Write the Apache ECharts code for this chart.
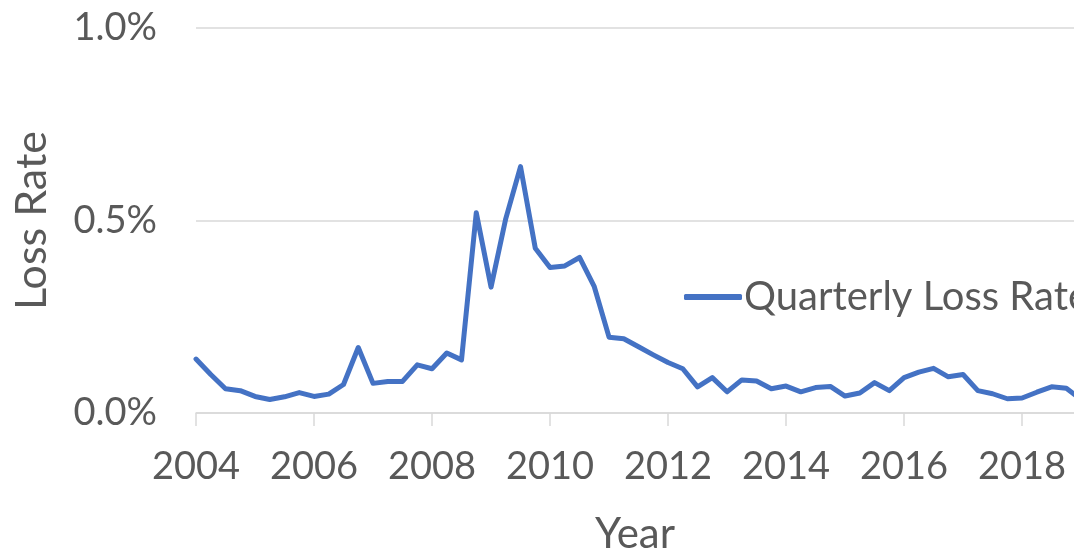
<!DOCTYPE html>
<html>
<head>
<meta charset="utf-8">
<script src="https://cdn.jsdelivr.net/npm/echarts@6/dist/echarts.min.js"></script>
<style>
html,body{margin:0;padding:0;background:#fff;}
#chart{width:1074px;height:550px;}
</style>
</head>
<body>
<div id="chart"></div>
<script>
// Quarterly loss rate (%), starting 2004 Q1
const startYear = 2004;
const quarterStep = 0.25;
const lossRate = [
  0.140, 0.100, 0.063, 0.058, 0.043, 0.035, 0.042, 0.053,
  0.043, 0.049, 0.074, 0.170, 0.077, 0.082, 0.082, 0.125,
  0.115, 0.156, 0.138, 0.520, 0.327, 0.505, 0.640, 0.428,
  0.378, 0.382, 0.404, 0.328, 0.197, 0.193, 0.172, 0.151,
  0.131, 0.115, 0.068, 0.092, 0.055, 0.086, 0.083, 0.063,
  0.070, 0.055, 0.066, 0.069, 0.044, 0.052, 0.079, 0.058,
  0.092, 0.106, 0.116, 0.094, 0.100, 0.058, 0.050, 0.037,
  0.039, 0.054, 0.068, 0.064, 0.035
];
const xTickLabels = [2004, 2006, 2008, 2010, 2012, 2014, 2016, 2018];
const yTicks = [0, 0.5, 1.0];
const seriesName = 'Quarterly Loss Rate';
const xTitle = 'Year';
const yTitle = 'Loss Rate';

const points = lossRate.map((v, i) => [startYear + i * quarterStep, v]);

const textColor = '#595959';
const gridColor = '#D9D9D9';
const fontFamily = 'Lato, "Open Sans", sans-serif';

const chart = echarts.init(document.getElementById('chart'), null, {renderer: 'canvas'});
chart.setOption({
  animation: false,
  backgroundColor: '#ffffff',
  textStyle: {fontFamily: fontFamily},
  grid: {left: 196, right: 0, top: 28, bottom: 137, containLabel: false, outerBoundsMode: 'none'},
  legend: {
    show: true,
    left: 679,
    top: 272,
    icon: 'roundRect',
    itemWidth: 58,
    itemHeight: 6,
    itemGap: 10,
    textStyle: {color: textColor, fontSize: 40, fontFamily: fontFamily, padding: [0, 0, 0, -3]},
    data: [seriesName]
  },
  xAxis: {
    type: 'value',
    min: xTickLabels[0],
    max: 2018.88,
    interval: 2,
    name: xTitle,
    nameLocation: 'middle',
    nameGap: 100,
    nameTextStyle: {color: textColor, fontSize: 42, fontFamily: fontFamily},
    axisLine: {show: true, lineStyle: {color: gridColor, width: 1.5}},
    axisTick: {show: true, length: 13, lineStyle: {color: gridColor, width: 1.5}, customValues: xTickLabels},
    axisLabel: {
      color: textColor, fontSize: 38, margin: 35, fontFamily: fontFamily,
      customValues: xTickLabels,
      formatter: v => String(v)
    },
    splitLine: {show: false}
  },
  yAxis: {
    type: 'value',
    min: yTicks[0],
    max: yTicks[yTicks.length - 1],
    interval: 0.5,
    name: yTitle,
    nameLocation: 'middle',
    nameGap: 142,
    nameRotate: 90,
    nameTextStyle: {color: textColor, fontSize: 43, fontFamily: fontFamily},
    axisLine: {show: false},
    axisTick: {show: false},
    axisLabel: {
      color: textColor, fontSize: 38, margin: 39, fontFamily: fontFamily,
      formatter: v => v.toFixed(1) + '%'
    },
    splitLine: {show: true, lineStyle: {color: gridColor, width: 1.5}}
  },
  series: [{
    name: seriesName,
    type: 'line',
    data: points,
    showSymbol: false,
    symbol: 'none',
    clip: true,
    lineStyle: {color: '#4472C4', width: 5, cap: 'round', join: 'round'},
    itemStyle: {color: '#4472C4'}
  }]
});
</script>
</body>
</html>
